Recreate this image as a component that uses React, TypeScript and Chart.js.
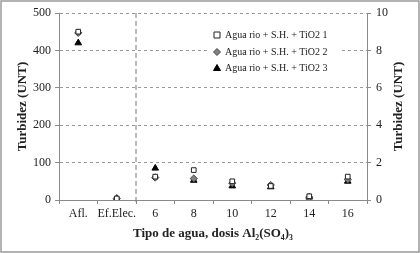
import React, { useEffect, useRef } from "react";
import { Chart, registerables } from "chart.js";

Chart.register(...registerables);

const categories = ["Afl.", "Ef.Elec.", "6", "8", "10", "12", "14", "16"];
const seriesNames = ["Agua rio + S.H. + TiO2 1", "Agua rio + S.H. + TiO2 2", "Agua rio + S.H. + TiO2 3"];
// Left axis (0-500): Afl. and Ef.Elec.
const s1Left = [450, 4, null, null, null, null, null, null];
const s2Left = [447, 4, null, null, null, null, null, null];
const s3Left = [420, 4, null, null, null, null, null, null];
// Right axis (0-10): doses 6..16
const s1Right = [null, null, 1.25, 1.6, 1.0, 0.75, 0.2, 1.25];
const s2Right = [null, null, 1.2, 1.15, 0.9, 0.8, 0.15, 1.1];
const s3Right = [null, null, 1.7, 1.05, 0.75, 0.7, 0.15, 1.0];
const leftTicks = [0, 100, 200, 300, 400, 500];
const rightTicks = [0, 2, 4, 6, 8, 10];

const FONT = "'Liberation Serif', 'Times New Roman', serif";
const styles = [
  { pointStyle: "rect", backgroundColor: "#ffffff", borderColor: "#222222", radius: 3.3 },
  { pointStyle: "rectRot", backgroundColor: "#808080", borderColor: "#4a4a4a", radius: 3.6 },
  { pointStyle: "triangle", backgroundColor: "#000000", borderColor: "#000000", radius: 3.8 },
];

const framePlugin = {
  id: "frame",
  beforeDraw(chart: any) {
    const { ctx, width, height } = chart;
    ctx.save();
    ctx.fillStyle = "#ffffff";
    ctx.fillRect(0, 0, width, height);
    ctx.restore();
  },
  afterDraw(chart: any) {
    const { ctx, width, height, chartArea, scales } = chart;
    ctx.save();
    // outer frame
    ctx.strokeStyle = "#9a9a9a";
    ctx.lineWidth = 1.5;
    ctx.strokeRect(1, 1, width - 2, height - 2);
    // dashed separator between Ef.Elec. and 6
    const x = (scales.x.getPixelForValue(1) + scales.x.getPixelForValue(2)) / 2;
    ctx.strokeStyle = "#7a7a7a";
    ctx.lineWidth = 1;
    ctx.setLineDash([5, 3]);
    ctx.beginPath();
    ctx.moveTo(x, chartArea.top);
    ctx.lineTo(x, chartArea.bottom + 4);
    ctx.stroke();
    ctx.setLineDash([]);
    // right axis title
    ctx.fillStyle = "#222222";
    ctx.font = `bold 13px ${FONT}`;
    ctx.textAlign = "center";
    ctx.textBaseline = "middle";
    ctx.translate(399, (chartArea.top + chartArea.bottom) / 2);
    ctx.rotate(-Math.PI / 2);
    ctx.fillText("Turbidez (UNT)", 0, 0);
    ctx.restore();

    // legend
    ctx.save();
    ctx.fillStyle = "#ffffff";
    ctx.fillRect(209, 26, 133, 52);
    ctx.font = `10px ${FONT}`;
    ctx.textAlign = "left";
    ctx.textBaseline = "middle";
    const rows = [35, 52, 68];
    seriesNames.forEach((name, i) => {
      const y = rows[i];
      const mx = 217;
      const st = styles[i];
      ctx.fillStyle = st.backgroundColor;
      ctx.strokeStyle = st.borderColor;
      ctx.lineWidth = 1;
      ctx.beginPath();
      if (i === 0) {
        ctx.rect(mx - 3, y - 3, 6, 6);
      } else if (i === 1) {
        ctx.moveTo(mx, y - 3.5);
        ctx.lineTo(mx + 3.5, y);
        ctx.lineTo(mx, y + 3.5);
        ctx.lineTo(mx - 3.5, y);
        ctx.closePath();
      } else {
        ctx.moveTo(mx, y - 3.5);
        ctx.lineTo(mx + 3.5, y + 2.5);
        ctx.lineTo(mx - 3.5, y + 2.5);
        ctx.closePath();
      }
      ctx.fill();
      ctx.stroke();
      ctx.fillStyle = "#222222";
      ctx.fillText(name, 225, y + 0.5);
    });
    ctx.restore();
  },
};

export default function App() {
  const ref = useRef<HTMLCanvasElement>(null);
  useEffect(() => {
    if (!ref.current) return;
    const mk = (data: (number | null)[], i: number, axis: string) => ({
      label: seriesNames[i],
      data,
      yAxisID: axis,
      showLine: false,
      pointStyle: styles[i].pointStyle,
      pointRadius: styles[i].radius,
      pointBackgroundColor: styles[i].backgroundColor,
      pointBorderColor: styles[i].borderColor,
      pointBorderWidth: 1,
      backgroundColor: styles[i].backgroundColor,
      borderColor: styles[i].borderColor,
    });
    const chart = new Chart(ref.current, {
      type: "line",
      data: {
        labels: categories,
        datasets: [
          mk(s1Left, 0, "y"),
          mk(s1Right, 0, "y1"),
          mk(s2Left, 1, "y"),
          mk(s2Right, 1, "y1"),
          mk(s3Left, 2, "y"),
          mk(s3Right, 2, "y1"),
        ],
      },
      options: {
        animation: false,
        responsive: false,
        maintainAspectRatio: false,
        layout: { padding: { top: 13, left: 0, right: 0, bottom: 0 } },
        plugins: { legend: { display: false }, tooltip: { enabled: false } },
        scales: {
          x: {
            type: "category",
            offset: true,
            grid: { display: true, offset: true, drawOnChartArea: false, drawTicks: true, tickLength: 4, color: "#8a8a8a" },
            border: { display: true, color: "#8a8a8a", width: 1 },
            ticks: { color: "#222222", font: { family: FONT, size: 12 }, padding: 3, maxRotation: 0, autoSkip: false },
            title: { display: true, text: "Tipo de agua, dosis Al₂(SO₄)₃", color: "#222222", font: { family: FONT, size: 13, weight: "bold" }, padding: { top: 0, bottom: 12 } },
            afterFit: (s: any) => { s.height = 53; },
          },
          y: {
            position: "left",
            min: 0,
            max: 500,
            afterBuildTicks: (s: any) => { s.ticks = leftTicks.map((v) => ({ value: v })); },
            grid: { color: (c: any) => (c.tick && c.tick.value === 0 ? "rgba(0,0,0,0)" : "#9a9a9a"), tickColor: "#8a8a8a", drawTicks: true, tickLength: 4, tickBorderDash: [] },
            border: { display: true, color: "#8a8a8a", width: 1, dash: [3, 3] },
            ticks: { color: "#222222", font: { family: FONT, size: 12 }, padding: 4 },
            title: { display: true, text: "Turbidez (UNT)", color: "#222222", font: { family: FONT, size: 13, weight: "bold" }, padding: { top: 15, bottom: 0 } },
            afterFit: (s: any) => { s.width = 59; },
          },
          y1: {
            position: "right",
            min: 0,
            max: 10,
            afterBuildTicks: (s: any) => { s.ticks = rightTicks.map((v) => ({ value: v })); },
            grid: { drawOnChartArea: false, drawTicks: true, tickLength: 4, color: "#8a8a8a", tickBorderDash: [] },
            border: { display: true, color: "#8a8a8a", width: 1 },
            ticks: { color: "#222222", font: { family: FONT, size: 12 }, padding: 5 },
            afterFit: (s: any) => { s.width = 53; },
          },
        },
      } as any,
      plugins: [framePlugin],
    });
    return () => chart.destroy();
  }, []);
  return (
    <div style={{ position: "fixed", left: 0, top: 0, width: 420, height: 253 }}>
      <canvas ref={ref} width={420} height={253} style={{ display: "block", width: 420, height: 253 }} />
    </div>
  );
}
